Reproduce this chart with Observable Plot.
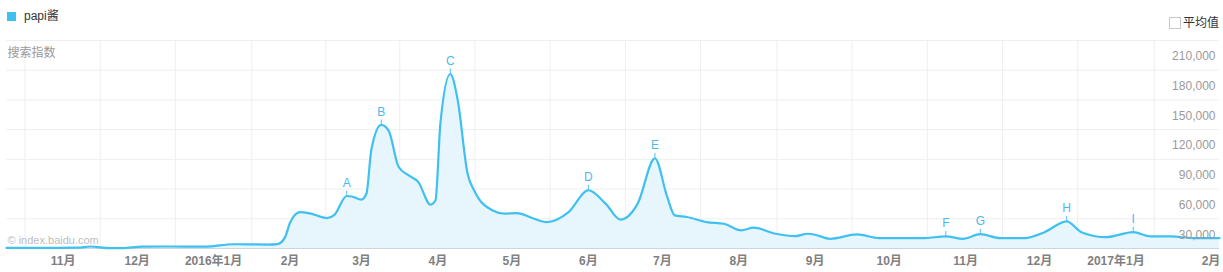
<!DOCTYPE html>
<html><head><meta charset="utf-8">
<script src="https://cdn.jsdelivr.net/npm/d3@7"></script>
<script src="https://cdn.jsdelivr.net/npm/@observablehq/plot@0.6"></script>
<style>
body{margin:0;background:#fff;font-family:"Liberation Sans","Noto Sans CJK SC",sans-serif;}
#head{position:relative;height:34px;width:1223px;}
#head .sw{position:absolute;left:7px;top:12px;width:9px;height:9px;background:#3ec0f0;}
#head .lg{position:absolute;left:24px;top:8px;line-height:16px;font-size:12px;color:#333;}
#head .cb{position:absolute;left:1169px;top:17px;width:10px;height:10px;border:1px solid #c8c8c8;background:#fff;}
#head .avg{position:absolute;left:1183px;top:15px;line-height:16px;font-size:12px;color:#333;}
g[aria-label="y-labels"] text{letter-spacing:1px;}
</style></head><body>
<div id="head"><span class="sw"></span><span class="lg" id="series"></span><span class="cb"></span><span class="avg" id="avg"></span></div>
<div id="chart"></div>
<script>
const seriesName = "papi酱";
const avgLabel = "平均值";
const yTitle = "搜索指数";
const watermark = "© index.baidu.com";

const dates = ["2015-10-09","2015-10-25","2015-11-07","2015-11-12","2015-11-20","2015-11-25","2015-12-03","2015-12-13","2015-12-29",
"2016-01-09","2016-01-23","2016-01-27","2016-01-30","2016-02-01","2016-02-05","2016-02-09","2016-02-16","2016-02-19","2016-02-24","2016-02-26",
"2016-03-01","2016-03-03","2016-03-05","2016-03-09","2016-03-12","2016-03-16","2016-03-20","2016-03-24","2016-03-29","2016-03-31",
"2016-04-02","2016-04-06","2016-04-09","2016-04-13","2016-04-16","2016-04-23","2016-04-28","2016-05-03","2016-05-10","2016-05-15","2016-05-24",
"2016-06-01","2016-06-08","2016-06-14","2016-06-21","2016-06-28","2016-07-03","2016-07-06","2016-07-11","2016-07-19","2016-07-26",
"2016-08-02","2016-08-07","2016-08-16","2016-08-24","2016-08-29","2016-09-01","2016-09-07","2016-09-18","2016-09-27",
"2016-10-15","2016-10-24","2016-10-31","2016-11-07","2016-11-15","2016-11-25","2016-12-03","2016-12-12","2016-12-18","2016-12-28",
"2017-01-08","2017-01-15","2017-01-23","2017-02-02","2017-02-12"];
const values = [600,600,800,2000,300,300,1800,2000,1900,
4300,4000,4500,11500,26000,36800,35500,30700,34000,53000,52500,
49400,55500,100000,124800,119000,82500,74000,67300,44300,48700,
126500,176200,150000,75800,57100,38600,35200,35800,30100,26700,36800,
58800,45300,29100,45300,91000,52000,33500,31800,26700,25000,
18300,21000,14900,12500,14900,13900,9800,14200,10500,
10500,12200,9800,14500,10500,10500,16500,27400,16500,11400,
16500,12200,12200,10500,10500];

const monthTicks = ["2015-11-01","2015-12-01","2016-01-01","2016-02-01","2016-03-01","2016-04-01","2016-05-01","2016-06-01","2016-07-01","2016-08-01","2016-09-01","2016-10-01","2016-11-01","2016-12-01","2017-01-01","2017-02-01"];
const monthLabels = ["11月","12月","2016年1月","2月","3月","4月","5月","6月","7月","8月","9月","10月","11月","12月","2017年1月","2月"];
const yTicks = [30000,60000,90000,120000,150000,180000,210000];
const markLetters = ["A","B","C","D","E","F","G","H","I"];
const markDates = ["2016-02-24","2016-03-09","2016-04-06","2016-06-01","2016-06-28","2016-10-24","2016-11-07","2016-12-12","2017-01-08"];

document.getElementById("series").textContent = seriesName;
document.getElementById("avg").textContent = avgLabel;

const parse = d3.utcParse("%Y-%m-%d");
const data = dates.map((d, i) => ({date: parse(d), value: values[i]}));
const byDate = new Map(data.map(d => [+d.date, d.value]));
const notes = markLetters.map((l, i) => ({letter: l, date: parse(markDates[i]), value: byDate.get(+parse(markDates[i]))}));
const ticks = monthTicks.map((d, i) => ({date: parse(d), label: monthLabels[i]}));
const monthStarts = d3.utcMonth.range(parse("2015-10-01"), parse("2017-02-02"));
const gridDates = d3.pairs(monthStarts, (a, b) => new Date((+a + +b) / 2));

const lineColor = "#3ec0f0";
const font = '"Liberation Sans","Noto Sans CJK SC",sans-serif';

const chart = Plot.plot({
  width: 1223,
  height: 238,
  marginLeft: 6,
  marginRight: 4,
  marginTop: 6,
  marginBottom: 24,
  style: {fontFamily: font, background: "#fff", overflow: "visible"},
  x: {type: "utc", domain: [data[0].date, data[data.length - 1].date], axis: null},
  y: {domain: [0, 210000], axis: null},
  marks: [
    Plot.ruleY(yTicks, {stroke: "#efefef"}),
    Plot.ruleX(gridDates, {stroke: "#efefef"}),
    Plot.areaY(data, {x: "date", y: "value", curve: "monotone-x", fill: "#e7f6fd"}),
    Plot.ruleY([0], {stroke: "#cdd6dc"}),
    Plot.lineY(data, {x: "date", y: "value", curve: "monotone-x", stroke: lineColor, strokeWidth: 2.2}),
    Plot.text([watermark], {text: d => d, frameAnchor: "bottom-left", textAnchor: "start", dx: 1, dy: -5, fill: "#bdbdbd", fontSize: 11}),
    Plot.text([yTitle], {text: d => d, frameAnchor: "top-left", textAnchor: "start", dx: 1, dy: 8, fill: "#999", fontSize: 12}),
    Plot.text(yTicks, {y: d => d, text: d => d3.format(",")(d), frameAnchor: "right", textAnchor: "end", dx: -4, dy: 16, fill: "#9a9a9a", fontSize: 12, ariaLabel: "y-labels"}),
    Plot.text(ticks.slice(0, -1), {x: "date", text: "label", frameAnchor: "bottom", dy: 16, fill: "#808080", fontSize: 12, fontWeight: "bold"}),
    Plot.text(ticks.slice(-1), {x: "date", text: "label", frameAnchor: "bottom", textAnchor: "end", dx: 28, dy: 16, fill: "#808080", fontSize: 12, fontWeight: "bold"}),
    Plot.ruleX(notes, {x: "date", y1: "value", y2: d => d.value + 5000, stroke: "#5bbcf0", strokeWidth: 1}),
    Plot.text(notes, {x: "date", y: "value", text: "letter", dy: -13, fill: "#4db7f0", fontSize: 12})
  ]
});
document.getElementById("chart").appendChild(chart);
</script>
</body></html>
